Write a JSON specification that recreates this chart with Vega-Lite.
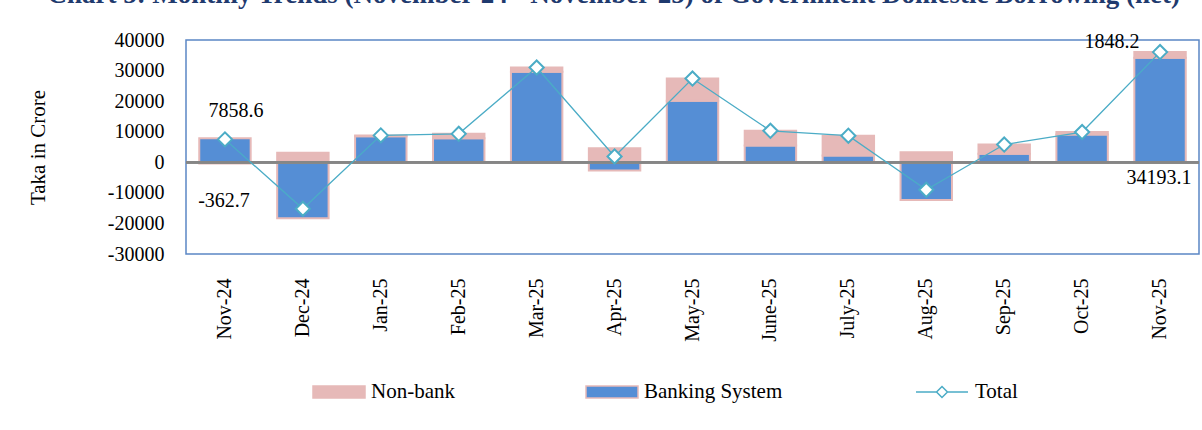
{
  "$schema": "https://vega.github.io/schema/vega-lite/v6.json",
  "width": 1013,
  "height": 214,
  "autosize": {"type": "none"},
  "padding": {"left": 186, "top": 40, "right": 3, "bottom": 176},
  "background": "white",
  "config": {
    "font": "Liberation Serif",
    "view": {"stroke": "#5B87C5", "strokeWidth": 1.5},
    "axis": {"labelFont": "Liberation Serif", "titleFont": "Liberation Serif", "labelColor": "black", "titleColor": "black", "grid": false, "domain": false, "ticks": false},
    "axisY": {"labelOverlap": false, "labelFontSize": 20, "labelPadding": 22, "titleFontSize": 21, "titleFontWeight": "normal", "titlePadding": 59},
    "legend": {"labelFont": "Liberation Serif", "labelFontSize": 21, "labelColor": "black"}
  },
  "title": {
    "text": "Chart 5: Monthly Trends (November'24 - November'25) of Government Domestic Borrowing (net)",
    "font": "Liberation Serif",
    "fontSize": 27,
    "fontWeight": "bold",
    "color": "#1F3A6E",
    "anchor": "middle",
    "frame": "bounds",
    "baseline": "alphabetic",
    "offset": 0
  },
  "data": {
    "values": [
      {"month": "Nov-24", "bank": 7858.6, "nonbank": -362.7, "total": 7495.9},
      {"month": "Dec-24", "bank": -18300, "nonbank": 3100, "total": -15200},
      {"month": "Jan-25", "bank": 8500, "nonbank": 300, "total": 8800},
      {"month": "Feb-25", "bank": 7900, "nonbank": 1400, "total": 9300},
      {"month": "Mar-25", "bank": 29600, "nonbank": 1400, "total": 31000},
      {"month": "Apr-25", "bank": -2700, "nonbank": 4600, "total": 1900},
      {"month": "May-25", "bank": 20100, "nonbank": 7300, "total": 27400},
      {"month": "June-25", "bank": 5500, "nonbank": 4800, "total": 10300},
      {"month": "July-25", "bank": 2200, "nonbank": 6500, "total": 8700},
      {"month": "Aug-25", "bank": -12300, "nonbank": 3300, "total": -9000},
      {"month": "Sep-25", "bank": 2800, "nonbank": 3000, "total": 5800},
      {"month": "Oct-25", "bank": 9100, "nonbank": 800, "total": 9900},
      {"month": "Nov-25", "bank": 34193.1, "nonbank": 1848.2, "total": 36041.3}
    ]
  },
  "encoding": {
    "x": {
      "field": "month",
      "type": "nominal",
      "sort": ["Nov-24", "Dec-24", "Jan-25", "Feb-25", "Mar-25", "Apr-25", "May-25", "June-25", "July-25", "Aug-25", "Sep-25", "Oct-25", "Nov-25"],
      "scale": {"paddingInner": 0.34, "paddingOuter": 0.17},
      "title": null,
      "axis": {"labelAngle": -90, "labelFontSize": 20, "labelPadding": 24, "labelAlign": "right", "labelBaseline": "middle"}
    }
  },
  "layer": [
    {
      "transform": [{"fold": ["bank", "nonbank"], "as": ["series", "value"]}],
      "mark": {"type": "bar", "stroke": "#E6B9B8", "strokeWidth": 2},
      "encoding": {
        "y": {
          "field": "value",
          "type": "quantitative",
          "stack": "zero",
          "title": "Taka in Crore",
          "scale": {"domain": [-30000, 40000], "nice": false},
          "axis": {"values": [-30000, -20000, -10000, 0, 10000, 20000, 30000, 40000], "labelOverlap": false, "labelExpr": "datum.value < 0 ? '-' + format(-datum.value, 'd') : format(datum.value, 'd')"}
        },
        "color": {
          "field": "series",
          "type": "nominal",
          "scale": {"domain": ["nonbank", "bank"], "range": ["#E6B9B8", "#558ED5"]},
          "legend": {
            "title": null,
            "orient": "none",
            "legendX": 126,
            "legendY": 325,
            "direction": "horizontal",
            "columnPadding": 128,
            "labelOffset": 5,
            "symbolType": "M-1,-0.23H1V0.23H-1Z",
            "symbolSize": 2704,
            "symbolStrokeColor": "#E6B9B8",
            "symbolStrokeWidth": 1.5,
            "labelExpr": "datum.label == 'bank' ? 'Banking System' : 'Non-bank'"
          }
        },
        "order": {"field": "series", "sort": "ascending"}
      }
    },
    {
      "mark": {"type": "rule", "color": "#868686", "strokeWidth": 2},
      "encoding": {"y": {"datum": 0, "type": "quantitative", "title": "Taka in Crore", "axis": {"values": [-30000, -20000, -10000, 0, 10000, 20000, 30000, 40000], "labelOverlap": false, "labelExpr": "datum.value < 0 ? '-' + format(-datum.value, 'd') : format(datum.value, 'd')"}}, "x": null}
    },
    {
      "mark": {"type": "line", "strokeWidth": 1.3},
      "encoding": {
        "y": {"field": "total", "type": "quantitative", "title": "Taka in Crore", "axis": {"values": [-30000, -20000, -10000, 0, 10000, 20000, 30000, 40000], "labelOverlap": false, "labelExpr": "datum.value < 0 ? '-' + format(-datum.value, 'd') : format(datum.value, 'd')"}},
        "stroke": {
          "datum": "Total",
          "scale": {"range": ["#4BACC6"]},
          "legend": {
            "title": null,
            "orient": "none",
            "legendX": 729,
            "legendY": 325,
            "labelOffset": 6,
            "symbolType": "M-1,0H-0.21M0.21,0H1M0,-0.21L0.21,0L0,0.21L-0.21,0Z",
            "symbolSize": 2704,
            "symbolStrokeWidth": 1.5,
            "symbolFillColor": "white"
          }
        }
      }
    },
    {
      "mark": {"type": "point", "shape": "diamond", "filled": true, "fill": "white", "stroke": "#4BACC6", "strokeWidth": 2, "size": 200, "opacity": 1},
      "encoding": {"y": {"field": "total", "type": "quantitative", "title": "Taka in Crore", "axis": {"values": [-30000, -20000, -10000, 0, 10000, 20000, 30000, 40000], "labelOverlap": false, "labelExpr": "datum.value < 0 ? '-' + format(-datum.value, 'd') : format(datum.value, 'd')"}}}
    },
    {
      "transform": [{"filter": "datum.month == 'Nov-24'"}],
      "mark": {"type": "text", "fontSize": 20, "font": "Liberation Serif", "color": "black", "dx": 11, "dy": -27, "baseline": "middle"},
      "encoding": {"y": {"field": "bank", "type": "quantitative", "title": "Taka in Crore", "axis": {"values": [-30000, -20000, -10000, 0, 10000, 20000, 30000, 40000], "labelOverlap": false, "labelExpr": "datum.value < 0 ? '-' + format(-datum.value, 'd') : format(datum.value, 'd')"}}, "text": {"field": "bank", "type": "nominal"}}
    },
    {
      "transform": [{"filter": "datum.month == 'Nov-24'"}],
      "mark": {"type": "text", "fontSize": 20, "font": "Liberation Serif", "color": "black", "dx": -1, "dy": 38, "baseline": "middle"},
      "encoding": {"y": {"field": "nonbank", "type": "quantitative", "title": "Taka in Crore", "axis": {"values": [-30000, -20000, -10000, 0, 10000, 20000, 30000, 40000], "labelOverlap": false, "labelExpr": "datum.value < 0 ? '-' + format(-datum.value, 'd') : format(datum.value, 'd')"}}, "text": {"field": "nonbank", "type": "nominal"}}
    },
    {
      "transform": [{"filter": "datum.month == 'Nov-25'"}],
      "mark": {"type": "text", "fontSize": 20, "font": "Liberation Serif", "color": "black", "dx": -48, "dy": -10, "baseline": "middle"},
      "encoding": {"y": {"field": "total", "type": "quantitative", "title": "Taka in Crore", "axis": {"values": [-30000, -20000, -10000, 0, 10000, 20000, 30000, 40000], "labelOverlap": false, "labelExpr": "datum.value < 0 ? '-' + format(-datum.value, 'd') : format(datum.value, 'd')"}}, "text": {"field": "nonbank", "type": "nominal"}}
    },
    {
      "transform": [{"filter": "datum.month == 'Nov-25'"}],
      "mark": {"type": "text", "fontSize": 20, "font": "Liberation Serif", "color": "black", "dx": -1, "dy": 16, "baseline": "middle"},
      "encoding": {"y": {"datum": 0, "type": "quantitative", "title": "Taka in Crore", "axis": {"values": [-30000, -20000, -10000, 0, 10000, 20000, 30000, 40000], "labelOverlap": false, "labelExpr": "datum.value < 0 ? '-' + format(-datum.value, 'd') : format(datum.value, 'd')"}}, "text": {"field": "bank", "type": "nominal"}}
    }
  ]
}
